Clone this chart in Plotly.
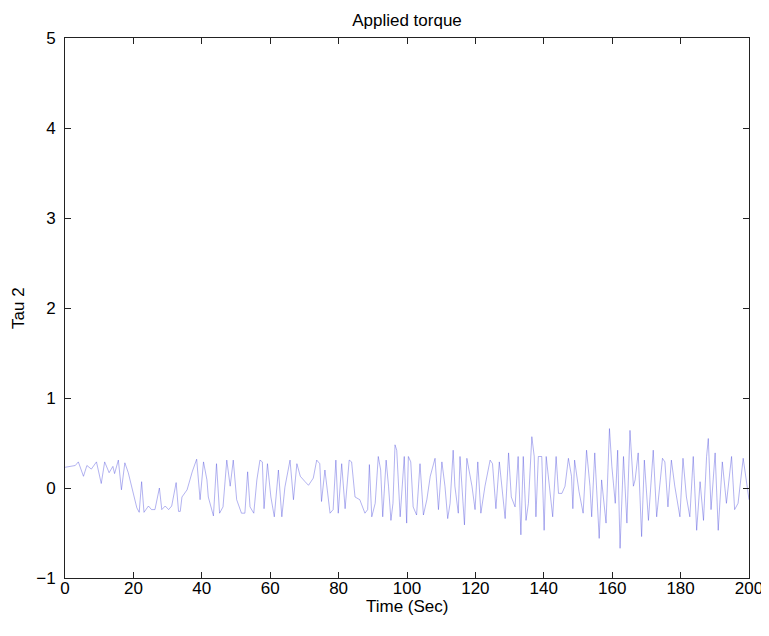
import plotly.graph_objects as go

time_sec = [
    0, 1.5, 3.0, 3.9, 5.4, 6.4, 7.7, 9.2, 10.6, 11.6, 12.9, 14.0, 14.5, 15.6, 16.5, 17.5, 18.5,
    21.0, 21.7, 22.4, 23.1, 24.4, 25.3, 26.3, 27.6, 28.3, 29.3, 30.3, 31.2, 32.5, 33.2, 33.7,
    34.2, 35.7, 37.2, 38.5, 39.5, 40.5, 41.5, 41.9, 43.4, 44.3, 45.2, 46.2, 47.3, 48.3, 49.2,
    50.2, 51.6, 52.6, 53.4, 54.1, 55.2, 56.1, 57.0, 57.7, 58.2, 59.2, 60.2, 61.2, 62.4, 63.4,
    64.3, 65.8, 66.8, 67.8, 68.8, 70.2, 71.2, 72.6, 73.6, 74.5, 75.0, 76.0, 77.5, 78.4, 79.2,
    79.9, 80.9, 81.9, 83.1, 83.8, 84.8, 86.2, 87.7, 88.5, 89.0, 89.7, 90.7, 91.6, 92.3, 92.9,
    93.9, 94.6, 95.3, 95.9, 96.5, 97.0, 98.0, 99.2, 99.9, 100.4, 101.1, 101.8, 102.8, 103.8,
    104.8, 105.8, 106.8, 108.2, 109.2, 110.2, 111.1, 111.9, 112.6, 113.5, 114.0, 115.0, 115.5,
    116.8, 117.5, 119.0, 119.9, 120.7, 121.6, 122.8, 124.3, 125.0, 126.0, 127.0, 128.0, 128.7,
    129.7, 130.5, 131.6, 132.5, 133.3, 134.0, 134.8, 135.5, 136.5, 137.2, 137.7, 138.4, 139.4,
    140.1, 140.7, 141.9, 142.6, 143.6, 144.3, 145.3, 146.2, 147.2, 148.1, 148.5, 149.0, 150.3,
    151.5, 152.5, 153.5, 154.0, 154.9, 156.2, 156.9, 158.2, 159.2, 159.9, 160.9, 161.6, 162.3,
    163.3, 164.3, 165.2, 166.2, 166.7, 167.6, 168.6, 169.4, 170.6, 172.0, 173.0, 173.9, 174.7,
    175.4, 176.3, 177.3, 178.3, 179.8, 180.7, 181.7, 182.7, 183.7, 184.7, 185.7, 186.7, 187.6,
    188.1, 188.9, 190.1, 191.0, 192.2, 193.4, 194.9, 195.8, 196.8, 198.3, 199.3, 200.0,
]

tau2 = [
    0.23, 0.24, 0.25, 0.29, 0.13, 0.25, 0.21, 0.29, 0.05, 0.29, 0.17, 0.24, 0.16, 0.31, -0.02, 0.28, 0.17,
    -0.22, -0.27, 0.07, -0.27, -0.20, -0.24, -0.24, 0.00, -0.24, -0.20, -0.24, -0.20, 0.06, -0.26, -0.26,
    -0.10, -0.02, 0.18, 0.32, -0.13, 0.29, 0.09, -0.10, -0.31, 0.27, -0.28, -0.21, 0.31, 0.02, 0.31,
    -0.13, -0.28, -0.28, 0.18, -0.21, -0.28, 0.09, 0.31, 0.29, -0.23, 0.27, -0.10, -0.32, 0.20, -0.32,
    0.01, 0.31, -0.13, 0.27, 0.13, 0.07, 0.03, 0.11, 0.31, 0.27, -0.15, 0.20, -0.28, -0.24, 0.31,
    -0.28, 0.27, -0.23, 0.31, 0.29, -0.10, -0.13, -0.28, -0.24, 0.26, -0.32, -0.17, 0.35, 0.20, -0.32,
    0.31, 0.02, -0.36, -0.17, 0.48, 0.42, -0.32, 0.35, -0.39, 0.35, 0.29, -0.21, -0.30, 0.27,
    -0.30, -0.13, 0.13, 0.33, -0.24, 0.29, 0.02, -0.34, -0.17, 0.42, 0.02, -0.28, 0.35,
    -0.41, 0.33, 0.02, -0.24, 0.29, -0.28, 0.02, 0.31, 0.27, -0.23, 0.29, -0.10, -0.34,
    0.39, -0.10, -0.21, 0.35, -0.52, 0.35, -0.36, -0.17, 0.57, 0.35, -0.32, 0.35, 0.35,
    -0.47, 0.35, -0.06, -0.32, 0.35, -0.06, -0.06, 0.02, 0.33, 0.13, -0.23, 0.31, -0.04,
    -0.28, 0.42, 0.02, -0.32, 0.39, -0.56, 0.09, -0.39, 0.66, 0.24, -0.17, 0.42, -0.67,
    0.35, -0.39, 0.64, 0.02, 0.09, 0.39, -0.54, 0.31, -0.36, 0.42, -0.32, 0.02, 0.33,
    0.29, -0.21, 0.31, 0.02, -0.32, 0.33, -0.10, -0.32, 0.35, -0.47, 0.07, -0.36, 0.35,
    0.55, -0.24, 0.39, -0.47, 0.29, -0.17, 0.35, -0.24, -0.17, 0.33, 0.02, -0.13,
]

x_ticks = [0, 20, 40, 60, 80, 100, 120, 140, 160, 180, 200]
y_ticks = [-1, 0, 1, 2, 3, 4, 5]

font_family = "Liberation Sans, Arial, sans-serif"

fig = go.Figure()
fig.add_trace(go.Scatter(
    x=time_sec, y=tau2, mode="lines",
    line=dict(color="rgba(80,80,220,0.55)", width=0.8),
    showlegend=False,
))

axis_common = dict(
    showgrid=False, zeroline=False, showline=True, linecolor="#222", linewidth=1,
    mirror="ticks", ticks="inside", ticklen=6, tickcolor="#222", tickwidth=1,
    tickfont=dict(family=font_family, size=17, color="#000"),
    automargin=False,
)

fig.update_layout(
    width=769, height=636,
    margin=dict(l=57, r=28, t=30, b=66),
    paper_bgcolor="white", plot_bgcolor="white",
    title=dict(text="Applied torque", x=0.5, xref="paper", y=0.99, yref="container",
               yanchor="top", automargin=False,
               font=dict(family=font_family, size=17, color="#000")),
    xaxis=dict(range=[0, 200], tickvals=x_ticks, ticklabelstandoff=-5, **axis_common),
    yaxis=dict(range=[-1, 5], tickvals=y_ticks, ticklabelstandoff=5, **axis_common),
    annotations=[
        dict(text="Time (Sec)", xref="paper", yref="paper", x=0.5, y=0,
             xanchor="center", yanchor="middle", yshift=-28, showarrow=False,
             font=dict(family=font_family, size=17, color="#000")),
        dict(text="Tau 2", xref="paper", yref="paper", x=0, y=0.5, textangle=-90,
             xanchor="center", yanchor="middle", xshift=-47, showarrow=False,
             font=dict(family=font_family, size=17, color="#000")),
    ],
)

fig.write_html("out.html")
